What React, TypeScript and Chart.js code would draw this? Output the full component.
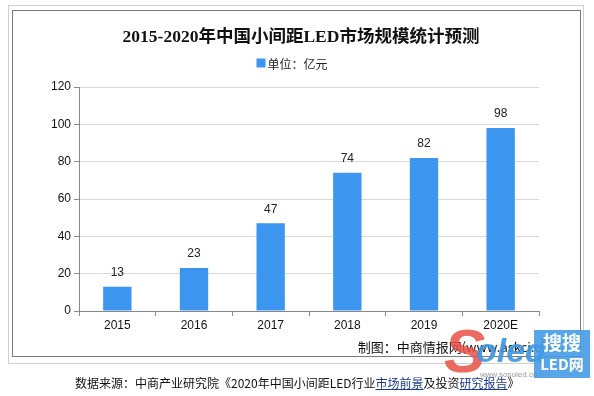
import React, { useEffect, useRef } from "react";
import { Chart, registerables } from "chart.js";

Chart.register(...registerables);

const categories = ["2015", "2016", "2017", "2018", "2019", "2020E"];
const values = [13, 23, 47, 74, 82, 98];
const seriesLabel = "单位：亿元";
const titleText = "2015-2020年中国小间距LED市场规模统计预测";
const yMin = 0;
const yMax = 120;
const yStep = 20;
const creditText = "制图：中商情报网(www.askci.com)";

const BAR = "#3c96f0";
const AXIS = "#888888";
const GRID = "#d9d9d9";
const SANS = "'Liberation Sans', Arial, sans-serif";
const CJK = "'Noto Sans CJK SC', 'Liberation Sans', sans-serif";
const TITLE_FONT = "bold 17.5px 'Liberation Serif', 'Noto Sans CJK SC', serif";

const valueLabels = {
  id: "valueLabels",
  afterDatasetsDraw(chart: any) {
    const ctx = chart.ctx;
    const meta = chart.getDatasetMeta(0);
    ctx.save();
    ctx.font = `12px ${SANS}`;
    ctx.fillStyle = "#222";
    ctx.textAlign = "center";
    ctx.textBaseline = "middle";
    meta.data.forEach((bar: any, i: number) => {
      ctx.fillText(String(chart.data.datasets[0].data[i]), bar.x, bar.y - 14);
    });
    ctx.restore();
  },
};

// Title and legend header drawn on the chart canvas
const header = {
  id: "header",
  afterDraw(chart: any) {
    const ctx = chart.ctx;
    ctx.save();
    ctx.font = TITLE_FONT;
    ctx.fillStyle = "#111";
    ctx.textAlign = "center";
    ctx.textBaseline = "middle";
    ctx.fillText(titleText, 301, 37);

    const ds = chart.data.datasets[0];
    ctx.font = `12px ${CJK}`;
    const tw = ctx.measureText(ds.label).width;
    const box = 9;
    const gap = 2;
    const total = box + gap + tw;
    const x0 = 292 - total / 2;
    const cy = 63;
    ctx.fillStyle = ds.backgroundColor;
    ctx.fillRect(x0, cy - box / 2, box, box);
    ctx.fillStyle = "#222";
    ctx.textAlign = "left";
    ctx.fillText(ds.label, x0 + box + gap, cy + 1);
    ctx.restore();
  },
};

export default function App() {
  const ref = useRef<HTMLCanvasElement>(null);

  useEffect(() => {
    if (!ref.current) return;
    const chart = new Chart(ref.current, {
      type: "bar",
      data: {
        labels: categories,
        datasets: [
          {
            label: seriesLabel,
            data: values,
            backgroundColor: BAR,
            borderWidth: 0,
            barPercentage: 0.37,
            categoryPercentage: 1,
          },
        ],
      },
      options: {
        responsive: false,
        animation: false,
        devicePixelRatio: 1,
        layout: { padding: { top: 87, left: 12, right: 55, bottom: 55 } },
        plugins: {
          title: { display: false },
          legend: { display: false },
          tooltip: { enabled: false },
        },
        scales: {
          x: {
            afterFit(scale: any) {
              scale.height = 30;
            },
            border: { color: AXIS, width: 1 },
            grid: {
              drawOnChartArea: false,
              drawTicks: true,
              tickLength: 5,
              tickColor: AXIS,
              offset: true,
            },
            ticks: {
              color: "#111",
              padding: 2,
              font: { family: SANS, size: 12 },
              maxRotation: 0,
            },
          },
          y: {
            min: yMin,
            max: yMax,
            afterFit(scale: any) {
              scale.width = 67;
            },
            border: { color: AXIS, width: 1 },
            grid: {
              color: GRID,
              drawTicks: true,
              tickLength: 5,
              tickColor: AXIS,
            },
            ticks: {
              stepSize: yStep,
              color: "#111",
              padding: 3,
              font: { family: SANS, size: 12 },
            },
          },
        },
      },
      plugins: [valueLabels, header],
    });
    return () => chart.destroy();
  }, []);

  return (
    <div style={{ position: "absolute", left: 0, top: 0, width: 594, height: 396, background: "#fff", overflow: "hidden" }}>
      <div style={{ position: "absolute", left: 8, top: 5, width: 576, height: 359, border: "1px solid #d0d0d0", boxSizing: "border-box" }} />
      <div style={{ position: "absolute", left: 12, top: 10, width: 569, height: 347, border: "1px solid #7a7a7a", boxSizing: "border-box" }} />
      <canvas ref={ref} width={594} height={396} style={{ position: "absolute", left: 0, top: 0, width: 594, height: 396 }} />
      <div style={{ position: "absolute", right: 29, top: 339, fontFamily: CJK, fontSize: 13, lineHeight: "15px", color: "#111", whiteSpace: "nowrap" }}>
        {creditText}
      </div>
      {/* logo */}
      <div style={{ position: "absolute", left: 440, top: 318, width: 100, height: 70, fontFamily: SANS, fontStyle: "italic", fontWeight: "bold", whiteSpace: "nowrap" }}>
        <span style={{ position: "absolute", left: 4, top: 0, fontSize: 62, lineHeight: "66px", color: "rgba(232,80,70,0.85)" }}>S</span>
        <span style={{ position: "absolute", left: 36, top: 14, fontSize: 34, lineHeight: "36px", color: "rgba(60,150,225,0.9)" }}>oled</span>
        <span style={{ position: "absolute", left: 40, top: 52, fontSize: 8, fontStyle: "normal", fontWeight: "normal", color: "#999" }}>www.sosoled.com</span>
      </div>
      <div style={{ position: "absolute", left: 534, top: 330, width: 56, height: 48, background: "rgba(70,155,230,0.9)", color: "#fff", fontFamily: CJK, textAlign: "center" }}>
        <div style={{ fontSize: 19, lineHeight: "24px", fontWeight: "bold" }}>搜搜</div>
        <div style={{ fontSize: 15, lineHeight: "20px", fontWeight: "bold" }}>LED网</div>
      </div>
      <div style={{ position: "absolute", left: 75, top: 376, fontFamily: CJK, fontSize: 12, lineHeight: "14px", color: "#111", whiteSpace: "nowrap" }}>
        数据来源：中商产业研究院《2020年中国小间距LED行业
        <span style={{ color: "#1a3a8c", textDecoration: "underline" }}>市场前景</span>
        及投资
        <span style={{ color: "#1a3a8c", textDecoration: "underline" }}>研究报告</span>
        》
      </div>
    </div>
  );
}
